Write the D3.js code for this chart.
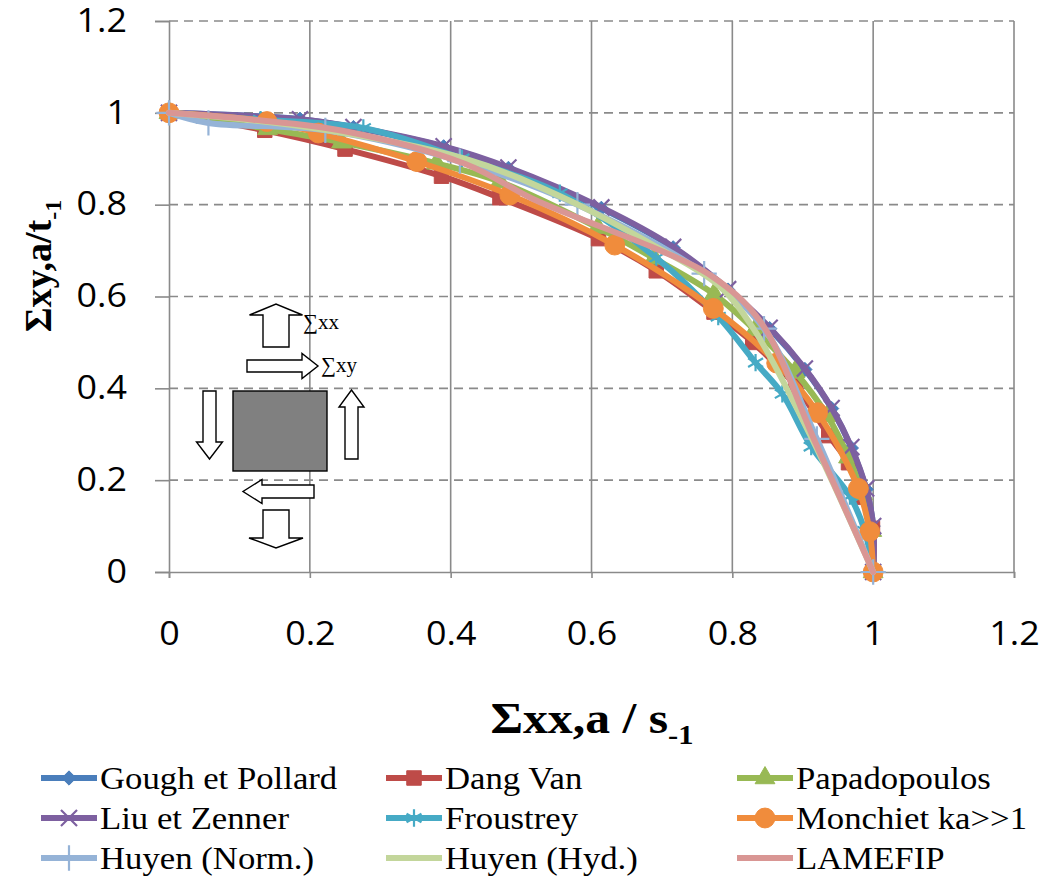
<!DOCTYPE html>
<html>
<head>
<meta charset="utf-8">
<script src="https://cdn.jsdelivr.net/npm/d3@7"></script>
<style>
  body { margin: 0; background: #fff; }
</style>
</head>
<body>
<div id="container"></div>
<script>
/* CONSTANTS AND GLOBALS */
const width = 1047,
  height = 879,
  margin = {top: 21, left: 169, right: 33, bottom: 307};

// axis ticks
const xTicks = [0, 0.2, 0.4, 0.6, 0.8, 1, 1.2];
const yTicks = [0, 0.2, 0.4, 0.6, 0.8, 1, 1.2];

// series (x = Σxx,a/s-1, y = Σxy,a/t-1)
const goughPollard = [[0,1],[0.186,0.986],[0.262,0.968],[0.39,0.926],[0.482,0.879],[0.614,0.792],[0.716,0.706],[0.794,0.614],[0.853,0.53],[0.903,0.441],[0.941,0.356],[0.969,0.27],[0.99,0.18],[1.0,0.1],[1,0]];
const dangVan = [[0,1],[0.136,0.962],[0.25,0.921],[0.387,0.862],[0.47,0.815],[0.61,0.726],[0.692,0.656],[0.774,0.566],[0.829,0.5],[0.89,0.405],[0.937,0.297],[0.965,0.238],[0.985,0.163],[0.999,0.095],[1,0]];
const papadopoulos = [[0,1],[0.14,0.965],[0.245,0.936],[0.38,0.89],[0.47,0.85],[0.609,0.75],[0.689,0.683],[0.774,0.605],[0.832,0.527],[0.889,0.436],[0.935,0.34],[0.965,0.25],[0.985,0.17],[0.998,0.09],[1,0]];
const liuZenner = [[0,1],[0.186,0.986],[0.262,0.969],[0.39,0.927],[0.482,0.881],[0.614,0.794],[0.716,0.708],[0.794,0.616],[0.853,0.532],[0.903,0.443],[0.941,0.357],[0.969,0.272],[0.99,0.182],[1.0,0.1],[1,0]];
const froustrey = [[0,1],[0.13,0.985],[0.276,0.967],[0.416,0.901],[0.555,0.825],[0.692,0.684],[0.78,0.556],[0.833,0.456],[0.871,0.388],[0.912,0.273],[0.967,0.165],[0.988,0.09],[1,0]];
const monchiet = [[0,1],[0.139,0.981],[0.212,0.956],[0.352,0.894],[0.484,0.821],[0.633,0.712],[0.773,0.574],[0.863,0.455],[0.921,0.347],[0.979,0.182],[0.995,0.088],[1,0]];
const huyenNorm = [[0,1],[0.056,0.978],[0.222,0.962],[0.413,0.895],[0.58,0.8],[0.76,0.65],[0.845,0.53],[0.92,0.29],[1,0]];
const huyenHyd = [[0,1],[0.2,0.968],[0.42,0.9],[0.56,0.815],[0.69,0.71],[0.78,0.625],[0.83,0.53],[0.91,0.3],[1,0]];
const lamefip = [[0,1],[0.12,0.985],[0.25,0.96],[0.42,0.889],[0.52,0.81],[0.6,0.76],[0.69,0.705],[0.77,0.645],[0.84,0.545],[0.92,0.275],[1,0]];

const seriesNames = ["Gough et Pollard", "Dang Van", "Papadopoulos", "Liu et Zenner", "Froustrey", "Monchiet ka>>1", "Huyen (Norm.)", "Huyen (Hyd.)", "LAMEFIP"];
const seriesData = [goughPollard, dangVan, papadopoulos, liuZenner, froustrey, monchiet, huyenNorm, huyenHyd, lamefip];
const seriesColors = ["#4a7ebb", "#be4b48", "#98b954", "#7d60a0", "#46aac5", "#f08c3c", "#95b3d7", "#c3d69b", "#d99694"];
const seriesMarkers = ["diamond", "square", "triangle", "times", "asterisk", "circle", "plus", "none", "none"];

let svg, xScale, yScale;

// widen a text element horizontally (the source picture is stretched)
function stretch(sel, k) {
  sel.each(function () {
    const w = this.getComputedTextLength();
    d3.select(this).attr("textLength", w * k).attr("lengthAdjust", "spacingAndGlyphs");
  });
}

/* INITIALIZING FUNCTION */
function init() {
  svg = d3.select("#container")
    .append("svg")
    .attr("width", width)
    .attr("height", height)
    .style("font-family", "'Open Sans', sans-serif");

  xScale = d3.scaleLinear()
    .domain([0, 1.2])
    .range([margin.left, width - margin.right]);

  yScale = d3.scaleLinear()
    .domain([0, 1.2])
    .range([height - margin.bottom, margin.top]);

  // gridlines
  svg.append("g")
    .selectAll("line")
    .data(yTicks.filter(d => d > 0))
    .join("line")
    .attr("x1", xScale(0)).attr("x2", xScale(1.2))
    .attr("y1", d => yScale(d)).attr("y2", d => yScale(d))
    .attr("stroke", "#8a8a8a")
    .attr("stroke-width", 1.6)
    .attr("stroke-dasharray", "9,6");

  svg.append("g")
    .selectAll("line")
    .data(xTicks.filter(d => d > 0))
    .join("line")
    .attr("x1", d => xScale(d)).attr("x2", d => xScale(d))
    .attr("y1", yScale(1.2)).attr("y2", yScale(0))
    .attr("stroke", "#8a8a8a")
    .attr("stroke-width", 1.6);

  // axes
  const xAxis = d3.axisBottom(xScale).tickValues(xTicks).tickFormat(d3.format("~g"))
    .tickSize(6).tickPadding(44);
  const yAxis = d3.axisLeft(yScale).tickValues(yTicks).tickFormat(d3.format("~g"))
    .tickSize(14).tickPadding(28);

  const xg = svg.append("g")
    .attr("transform", `translate(0,${yScale(0)})`)
    .call(xAxis);
  const yg = svg.append("g")
    .attr("transform", `translate(${xScale(0)},0)`)
    .call(yAxis);

  [xg, yg].forEach(g => {
    g.select(".domain").attr("stroke", "#8a8a8a").attr("stroke-width", 1.6);
    g.selectAll(".tick line").attr("stroke", "#8a8a8a").attr("stroke-width", 1.6);
    g.selectAll(".tick text")
      .attr("fill", "#000")
      .style("font-family", "'Open Sans', sans-serif")
      .style("font-size", "32px");
    stretch(g.selectAll(".tick text"), 1.12);
  });

  // axis titles
  const xTitle = svg.append("text")
    .attr("x", 592).attr("y", 733)
    .attr("text-anchor", "middle")
    .style("font-family", "'Liberation Serif', serif")
    .style("font-weight", "bold")
    .style("font-size", "44px");
  xTitle.append("tspan").text("Σxx,a / s");
  xTitle.append("tspan").attr("dy", 11).style("font-size", "27px").text("-1");
  stretch(xTitle, 1.13);

  const yTitle = svg.append("text")
    .attr("transform", "translate(51,266) rotate(-90)")
    .attr("text-anchor", "middle")
    .style("font-family", "'Liberation Serif', serif")
    .style("font-weight", "bold")
    .style("font-size", "38px");
  yTitle.append("tspan").text("Σxy,a/t");
  yTitle.append("tspan").attr("dy", 10).style("font-size", "24px").text("-1");

  drawInset();
  draw();
  drawLegend();
}

/* MARKERS */
function markerPath(type) {
  const types = {
    diamond: [d3.symbolDiamond2 || d3.symbolDiamond, 130],
    square: [d3.symbolSquare, 210],
    triangle: [d3.symbolTriangle, 170],
    circle: [d3.symbolCircle, 310],
    times: [d3.symbolTimes, 170],
    asterisk: [d3.symbolAsterisk, 210],
    plus: [d3.symbolPlus, 210]
  };
  const t = types[type];
  return d3.symbol().type(t[0]).size(t[1])();
}
const strokeMarkers = ["times", "asterisk", "plus"];

function addMarker(g, type, color, x, y) {
  if (type === "none") return;
  const p = g.append("path")
    .attr("d", markerPath(type))
    .attr("transform", `translate(${x},${y})`);
  if (strokeMarkers.includes(type)) {
    p.attr("fill", "none").attr("stroke", color).attr("stroke-width", 2.2);
  } else {
    p.attr("fill", color).attr("stroke", color).attr("stroke-width", 1);
  }
}

/* DRAW FUNCTION */
function draw() {
  const line = d3.line()
    .x(d => xScale(d[0]))
    .y(d => yScale(d[1]))
    .curve(d3.curveCatmullRom.alpha(0.5));

  seriesData.forEach((data, i) => {
    const g = svg.append("g").attr("class", "series");
    g.append("path")
      .datum(data)
      .attr("d", line)
      .attr("fill", "none")
      .attr("stroke", seriesColors[i])
      .attr("stroke-width", 6)
      .attr("stroke-linejoin", "round")
      .attr("stroke-linecap", "round");
    data.forEach(d => addMarker(g, seriesMarkers[i], seriesColors[i], xScale(d[0]), yScale(d[1])));
  });
}

/* INSET DRAWING (stress element) */
function arrow(g, x, y, angle, shaftLen, shaftW, headLen, headW) {
  // local arrow pointing right, tail centre at (0,0)
  const pts = [
    [0, -shaftW / 2], [shaftLen, -shaftW / 2], [shaftLen, -headW / 2],
    [shaftLen + headLen, 0], [shaftLen, headW / 2], [shaftLen, shaftW / 2], [0, shaftW / 2]
  ];
  g.append("path")
    .attr("d", "M" + pts.join("L") + "Z")
    .attr("transform", `translate(${x},${y}) rotate(${angle})`)
    .attr("fill", "#fff")
    .attr("stroke", "#000")
    .attr("stroke-width", 1.4);
}

function drawInset() {
  const g = svg.append("g").attr("class", "inset");
  g.append("rect")
    .attr("x", 233).attr("y", 391)
    .attr("width", 94).attr("height", 80)
    .attr("fill", "#808080")
    .attr("stroke", "#000")
    .attr("stroke-width", 1.4);

  arrow(g, 276, 347, -90, 32, 26, 11, 53);   // top, up
  arrow(g, 247, 366, 0, 55, 12, 16, 25);     // top, right
  arrow(g, 209.5, 391, 90, 51, 13, 17, 26);  // left, down
  arrow(g, 351.5, 459, -90, 52, 13, 17, 25); // right, up
  arrow(g, 314, 491.5, 180, 52, 13, 19, 24); // bottom, left
  arrow(g, 276, 510, 90, 28, 26, 10, 54);    // bottom, down

  g.append("text").attr("x", 303).attr("y", 329)
    .style("font-family", "'Liberation Serif', serif").style("font-size", "21px")
    .text("∑xx");
  g.append("text").attr("x", 321).attr("y", 372)
    .style("font-family", "'Liberation Serif', serif").style("font-size", "21px")
    .text("∑xy");
}

/* LEGEND */
function drawLegend() {
  const colX = [41, 386, 737];
  const rowY = [778, 818, 858];
  seriesNames.forEach((name, i) => {
    const x = colX[i % 3], y = rowY[Math.floor(i / 3)];
    const g = svg.append("g").attr("transform", `translate(${x},${y})`);
    g.append("line")
      .attr("x1", 0).attr("x2", 56)
      .attr("stroke", seriesColors[i])
      .attr("stroke-width", 6);
    addMarker(g, seriesMarkers[i], seriesColors[i], 28, 0);
    const t = g.append("text")
      .attr("x", 59).attr("y", 11)
      .style("font-family", "'Liberation Serif', serif")
      .style("font-size", "31px")
      .text(name);
    stretch(t, 1.12);
  });
}

init();
</script>
</body>
</html>
